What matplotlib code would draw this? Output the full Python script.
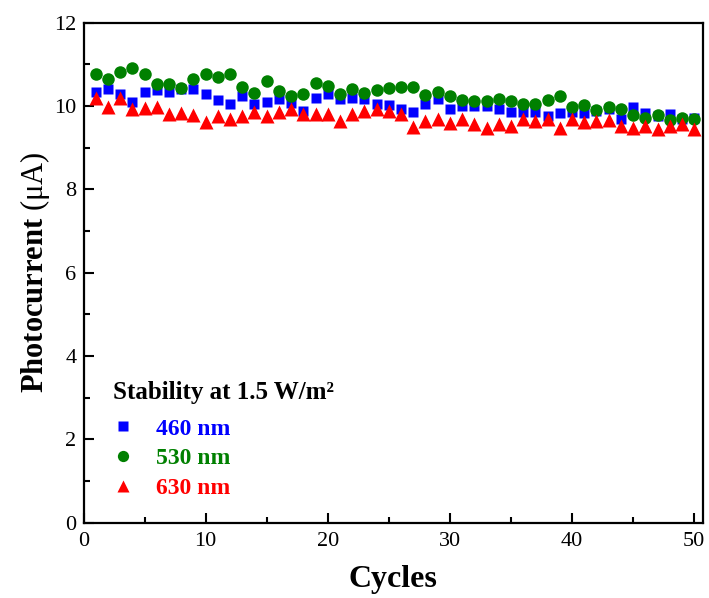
import numpy as np
import matplotlib
matplotlib.use('Agg')
import matplotlib.pyplot as plt
from matplotlib.ticker import MultipleLocator

plt.rcParams['font.family'] = ['Liberation Serif', 'DejaVu Serif']
plt.rcParams['mathtext.fontset'] = 'custom'
plt.rcParams['mathtext.rm'] = 'Liberation Serif'

cycles = np.arange(1, 51)

# photocurrent (uA) per cycle
i_460 = [10.34, 10.42, 10.30, 10.10, 10.34, 10.38, 10.34, 10.40, 10.42, 10.29,
         10.14, 10.06, 10.24, 10.06, 10.10, 10.16, 10.08, 9.88, 10.20, 10.28,
         10.18, 10.20, 10.16, 10.04, 10.02, 9.94, 9.86, 10.06, 10.16, 9.94,
         10.00, 10.00, 10.00, 9.94, 9.86, 9.86, 9.86, 9.76, 9.84, 9.86,
         9.84, 9.88, 9.92, 9.70, 9.98, 9.84, 9.76, 9.80, 9.70, 9.72]
i_530 = [10.78, 10.66, 10.82, 10.92, 10.78, 10.54, 10.54, 10.44, 10.66, 10.77,
         10.70, 10.77, 10.46, 10.32, 10.60, 10.36, 10.24, 10.30, 10.56, 10.47,
         10.28, 10.40, 10.32, 10.38, 10.44, 10.46, 10.46, 10.26, 10.34, 10.24,
         10.14, 10.12, 10.12, 10.16, 10.12, 10.06, 10.06, 10.14, 10.24, 9.98,
         10.02, 9.90, 9.98, 9.92, 9.78, 9.72, 9.78, 9.66, 9.72, 9.68]
i_630 = [10.20, 9.98, 10.20, 9.92, 9.96, 9.98, 9.80, 9.84, 9.78, 9.62,
         9.76, 9.70, 9.76, 9.86, 9.76, 9.86, 9.94, 9.82, 9.82, 9.82,
         9.64, 9.82, 9.88, 9.94, 9.88, 9.80, 9.50, 9.64, 9.68, 9.60,
         9.68, 9.58, 9.48, 9.56, 9.52, 9.70, 9.64, 9.68, 9.48, 9.68,
         9.62, 9.64, 9.66, 9.52, 9.48, 9.52, 9.46, 9.52, 9.58, 9.44]

labels = ['460 nm', '530 nm', '630 nm']
colors = ['#0000ff', '#008000', '#ff0000']

fig = plt.figure(figsize=(7.09, 5.98), dpi=100)
ax = fig.add_axes([0.1178, 0.1259, 0.8733, 0.8361])

ax.plot(cycles, i_460, 's', color=colors[0], ms=7.5, mec='none', label=labels[0])
ax.plot(cycles, i_530, 'o', color=colors[1], ms=9, mec='none', label=labels[1])
ax.plot(cycles, i_630, '^', color=colors[2], ms=9.5, mec='none', label=labels[2])

ax.set_xlim(0, 50.7)
ax.set_ylim(0, 12)
ax.xaxis.set_major_locator(MultipleLocator(10))
ax.xaxis.set_minor_locator(MultipleLocator(5))
ax.yaxis.set_major_locator(MultipleLocator(2))
ax.yaxis.set_minor_locator(MultipleLocator(1))
ax.tick_params(which='both', direction='in', width=1.5, labelsize=16)
ax.tick_params(which='major', length=7)
ax.tick_params(which='minor', length=4)
ax.tick_params(axis='x', pad=7)
ax.tick_params(axis='y', pad=5)
for s in ax.spines.values():
    s.set_linewidth(1.6)

ax.set_xlabel('Cycles', fontsize=23, fontweight='bold', labelpad=10)
ax.set_ylabel(r'Photocurrent $\mathrm{(μA)}$', fontsize=22, fontweight='bold', labelpad=2)

leg = ax.legend(title='Stability at 1.5 W/m²', loc='lower left', frameon=False,
                bbox_to_anchor=(0.048, 0.047), borderaxespad=0, borderpad=0,
                handlelength=0.8, handletextpad=1.0, labelspacing=0.35,
                markerscale=0.9, alignment='left',
                prop={'size': 17, 'weight': 'bold'},
                title_fontproperties={'size': 18, 'weight': 'bold'})
leg._legend_box.sep = 10
for t, c in zip(leg.get_texts(), colors):
    t.set_color(c)

fig.savefig('out.png', dpi=100)
